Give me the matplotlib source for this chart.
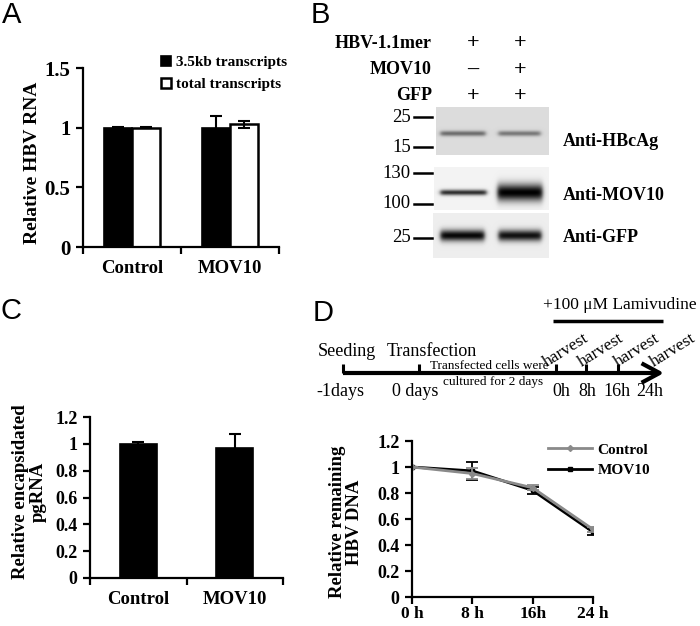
import matplotlib
matplotlib.use("Agg")
import matplotlib.pyplot as plt
import numpy as np
from matplotlib.lines import Line2D
from matplotlib.patches import Rectangle, FancyArrowPatch

W, H = 700, 626
SERIF = "Liberation Serif"
SANS = "Liberation Sans"

# ---------------- data ----------------
categories = ["Control", "MOV10"]
rna_35kb = [1.00, 1.00]
rna_35kb_err = [0.005, 0.10]
rna_total = [1.00, 1.03]
rna_total_err = [0.005, 0.03]
rna_ticks = [0, 0.5, 1, 1.5]
rna_ticklabels = ["0", "0.5", "1", "1.5"]

pgrna = [1.00, 0.97]
pgrna_err = [0.01, 0.10]
pgrna_ticks = [0, 0.2, 0.4, 0.6, 0.8, 1.0, 1.2]
pgrna_ticklabels = ["0", "0.2", "0.4", "0.6", "0.8", "1", "1.2"]

hours = [0, 8, 16, 24]
hour_labels = ["0 h", "8 h", "16h", "24 h"]
dna_control = [1.00, 0.95, 0.84, 0.52]
dna_control_err = [0.0, 0.04, 0.02, 0.02]
dna_mov10 = [1.00, 0.97, 0.82, 0.50]
dna_mov10_err = [0.0, 0.07, 0.03, 0.02]
dna_ticks = [0, 0.2, 0.4, 0.6, 0.8, 1.0, 1.2]
dna_ticklabels = ["0", "0.2", "0.4", "0.6", "0.8", "1", "1.2"]

blot_conditions = ["HBV-1.1mer", "MOV10", "GFP"]
blot_signs = [["+", "+"], ["–", "+"], ["+", "+"]]
blot_antibodies = ["Anti-HBcAg", "Anti-MOV10", "Anti-GFP"]
blot_markers = [["25", "15"], ["130", "100"], ["25"]]
band_hbcag = [0.50, 0.45]
band_mov10 = [0.80, 1.00]
band_gfp = [0.97, 0.93]

timeline_events = ["Seeding", "Transfection"]
timeline_days = ["-1days", "0 days"]
harvest_times = ["0h", "8h", "16h", "24h"]
culture_note = ["Transfected cells were", "cultured for 2 days"]
treatment = "+100 μM Lamivudine"

# ---------------- helpers ----------------
def rect(l, t, r, b):
    return [l / W, 1 - b / H, (r - l) / W, (b - t) / H]

BOLD = dict(fontfamily=SERIF, fontweight="bold")
REG = dict(fontfamily=SERIF)

fig = plt.figure(figsize=(W / 100, H / 100), dpi=100)
ov = fig.add_axes([0, 0, 1, 1], zorder=5)
ov.set_xlim(0, W)
ov.set_ylim(H, 0)
ov.axis("off")


def style_axes(ax, ylim, yticks, yticklabels, fs):
    ax.set_ylim(*ylim)
    for s in ["top", "right"]:
        ax.spines[s].set_visible(False)
    for s in ["left", "bottom"]:
        ax.spines[s].set_linewidth(1.6)
    ax.set_yticks(yticks)
    ax.set_yticklabels(yticklabels, fontsize=fs, **BOLD)
    ax.tick_params(axis="y", length=5, width=1.6, direction="out", pad=4)


def style_cat(ax, ncat):
    ax.set_xlim(-0.5, ncat - 0.5)
    ax.set_xticks(range(ncat))
    ax.set_xticklabels(categories, fontsize=13.5, **BOLD)
    ax.tick_params(axis="x", which="major", length=0, pad=9)
    ax.set_xticks(np.arange(-0.5, ncat, 1.0), minor=True)
    ax.tick_params(axis="x", which="minor", length=5, width=1.6, direction="out")


ekw = dict(ecolor="black", elinewidth=1.5, capsize=4, capthick=1.5)

# ---------------- Panel A ----------------
axA = fig.add_axes(rect(83, 68, 279, 247))
x = np.arange(len(categories))
bw = 0.29
axA.bar(x - bw / 2, rna_35kb, bw, color="black", edgecolor="black", lw=1.2,
        yerr=rna_35kb_err, error_kw=ekw, label="3.5kb transcripts")
axA.bar(x + bw / 2, rna_total, bw, color="white", edgecolor="black", lw=1.8,
        yerr=rna_total_err, error_kw=ekw, label="total transcripts")
style_axes(axA, (0, 1.5), rna_ticks, rna_ticklabels, 15)
style_cat(axA, len(categories))
hA = [Rectangle((0, 0), 1, 1, fc="black", ec="black", lw=1.2),
      Rectangle((0, 0), 1, 1, fc="white", ec="black", lw=1.8)]
fig.legend(hA, ["3.5kb transcripts", "total transcripts"], loc="upper left",
           bbox_to_anchor=(161 / W, 1 - 56 / H), frameon=False,
           prop=dict(family=SERIF, weight="bold", size=11),
           handlelength=0.65, handleheight=0.65, handletextpad=0.3,
           labelspacing=0.55, borderpad=0, borderaxespad=0)
ov.text(33, 163, "Relative HBV RNA", rotation=90, ha="center", va="center",
        fontsize=14, **BOLD)

# ---------------- Panel C ----------------
axC = fig.add_axes(rect(90, 417, 283, 578))
axC.bar(x, pgrna, 0.38, color="black", edgecolor="black", lw=1.2,
        yerr=pgrna_err, error_kw=ekw)
style_axes(axC, (0, 1.2), pgrna_ticks, pgrna_ticklabels, 13)
style_cat(axC, len(categories))
ov.text(29, 492, "Relative encapsidated\npgRNA", rotation=90, ha="center",
        va="center", fontsize=13.5, linespacing=1.05, **BOLD)

# ---------------- Panel D (line chart) ----------------
axD = fig.add_axes(rect(412, 441, 593, 597))
axD.errorbar(hours, dna_control, yerr=dna_control_err, color="#8a8a8a", lw=2,
             marker="D", ms=3, capsize=4, elinewidth=1.3, capthick=1.3,
             label="Control", zorder=3)
axD.errorbar(hours, dna_mov10, yerr=dna_mov10_err, color="black", lw=2,
             marker="s", ms=3, capsize=4, elinewidth=1.3, capthick=1.3,
             label="MOV10", zorder=2)
style_axes(axD, (0, 1.2), dna_ticks, dna_ticklabels, 13)
axD.set_xlim(hours[0], hours[-1])
axD.set_xticks(hours)
axD.set_xticklabels(hour_labels, fontsize=12.5, **BOLD)
axD.tick_params(axis="x", length=5, width=1.6, direction="out", pad=1.5)
axD.spines["left"].set_zorder(4)
hD = [Line2D([], [], color="#8a8a8a", lw=2, marker="D", ms=3),
      Line2D([], [], color="black", lw=2, marker="s", ms=3)]
fig.legend(hD, ["Control", "MOV10"], loc="upper left",
           bbox_to_anchor=(548 / W, 1 - 443 / H), frameon=False,
           prop=dict(family=SERIF, weight="bold", size=11),
           handlelength=2.9, handletextpad=0.35, labelspacing=0.45,
           borderpad=0, borderaxespad=0)
ov.text(346, 522, "Relative remaining\nHBV DNA", rotation=90, ha="center",
        va="center", fontsize=13.5, linespacing=1.05, **BOLD)

# ---------------- Panel B (western blot) ----------------
cond_y = [43, 70, 96]
sign_x = [473, 520]
for label, signs, yy in zip(blot_conditions, blot_signs, cond_y):
    ov.text(432, yy, label, ha="right", va="center", fontsize=13, **BOLD)
    for s, xx in zip(signs, sign_x):
        ov.text(xx, yy, s, ha="center", va="center", fontsize=16, **BOLD)


def blot_image(w, h, bg, lanes, band_y, band_sy, intens):
    yy, xx = np.mgrid[0:h, 0:w].astype(float)
    dark = np.zeros((h, w))
    for (x0, x1), a in zip(lanes, intens):
        prof_x = 0.5 * (np.tanh((xx - x0) / 2.5) - np.tanh((xx - x1) / 2.5))
        prof_y = np.exp(-0.5 * ((yy - band_y) / band_sy) ** 2)
        dark = np.maximum(dark, a * prof_x * prof_y)
    return np.clip(bg * (1 - dark), 0, 1)


blots = [
    # (l, t, r, b), bg, lanes (panel-relative px), band y, sigma, intensities
    ((436, 107, 549, 155), 0.86, [(4, 49), (62, 104)], 26, 1.9, band_hbcag),
    ((434, 167, 549, 210), 0.95, [(6, 52), (63, 108)], 25, [2.0, 6.0], band_mov10),
    ((433, 213, 549, 258), 0.93, [(7, 51), (65, 108)], 22, 4.0, band_gfp),
]
for (l, t, r, b), bg, lanes, by, sy, inten in blots:
    w, h = r - l, b - t
    if isinstance(sy, list):
        img = np.full((h, w), bg)
        for lane, s, a in zip(lanes, sy, inten):
            img = np.minimum(img, blot_image(w, h, bg, [lane], by, s, [a]))
    else:
        img = blot_image(w, h, bg, lanes, by, sy, inten)
    axb = fig.add_axes(rect(l, t, r, b))
    axb.imshow(img, cmap="gray", vmin=0, vmax=1, aspect="auto",
               interpolation="bilinear")
    axb.axis("off")

marker_y = [[117, 147], [173, 204], [238]]
for labels, ys in zip(blot_markers, marker_y):
    for lab, yy in zip(labels, ys):
        ov.text(411, yy, lab, ha="right", va="center", fontsize=13.5, **REG)
        ov.plot([414, 432], [yy, yy], color="black", lw=1.8)

anti_y = [142, 196, 237]
for lab, yy in zip(blot_antibodies, anti_y):
    ov.text(563, yy, lab, ha="left", va="center", fontsize=13, **BOLD)

# ---------------- Panel D (timeline) ----------------
line_y = 373
ov.add_patch(FancyArrowPatch((343, line_y), (664, line_y),
                             arrowstyle="->,head_length=0.65,head_width=0.35",
                             mutation_scale=20, lw=3, color="black",
                             shrinkA=0, shrinkB=0, capstyle="butt"))
tick_x = [343, 419, 556, 586, 618]
for tx in tick_x:
    ov.plot([tx, tx], [line_y, line_y - 9], color="black", lw=2.2,
            solid_capstyle="butt")

for lab, cx in zip(timeline_events, [347, 432]):
    ov.text(cx, 351, lab, ha="center", va="center", fontsize=13, **REG)
for lab, cx in zip(timeline_days, [340, 415]):
    ov.text(cx, 391, lab, ha="center", va="center", fontsize=13, **REG)
ov.text(489, 366, culture_note[0], ha="center", va="center", fontsize=9.5, **REG)
ov.text(493, 382, culture_note[1], ha="center", va="center", fontsize=9.5, **REG)

harvest_x = [547, 582, 618, 654]
for hx in harvest_x:
    ov.text(hx, 367, "harvest", ha="left", va="baseline", rotation=32,
            rotation_mode="anchor", fontsize=12.5, **REG)
for lab, cx in zip(harvest_times, [561, 587, 617, 650]):
    ov.text(cx, 392, lab, ha="center", va="center", fontsize=13, **REG)

ov.text(620, 305, treatment, ha="center", va="center", fontsize=12.5, **REG)
ov.plot([553, 663], [321, 321], color="black", lw=2.5, solid_capstyle="butt")

# ---------------- panel letters ----------------
for lab, cx, cy in [("A", 12, 15), ("B", 320, 15), ("C", 11, 311), ("D", 323, 313)]:
    ov.text(cx, cy, lab, ha="center", va="center", fontsize=21, fontfamily=SANS)

fig.savefig("out.png", dpi=100)
